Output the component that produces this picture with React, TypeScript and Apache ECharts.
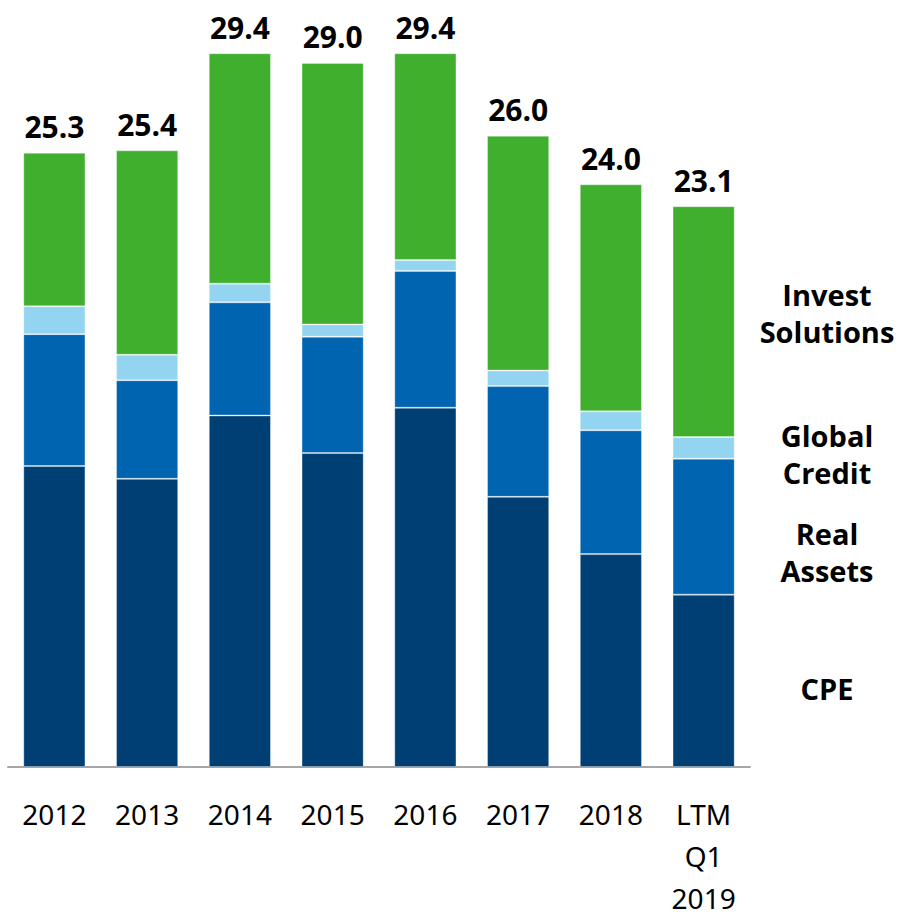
import React, { useEffect, useRef } from "react";
import * as echarts from "echarts";

const categories = ["2012", "2013", "2014", "2015", "2016", "2017", "2018", "LTM\nQ1\n2019"];
const totals = [25.3, 25.4, 29.4, 29.0, 29.4, 26.0, 24.0, 23.1];
const cpe = [12.4, 11.87, 14.48, 12.93, 14.8, 11.13, 8.77, 7.1];
const realAssets = [5.43, 4.06, 4.66, 4.79, 5.63, 4.56, 5.1, 5.6];
const globalCredit = [1.15, 1.05, 0.77, 0.51, 0.45, 0.64, 0.78, 0.89];
const investSolutions = totals.map((t, i) =>
  +(t - cpe[i] - realAssets[i] - globalCredit[i]).toFixed(2)
);
const seriesNames = ["CPE", "Real Assets", "Global Credit", "Invest Solutions"];
const seriesColors = ["#003f74", "#0064b0", "#93d5f0", "#3faf2d"];
const sideLabels = [
  { text: "Invest\nSolutions", y: 313 },
  { text: "Global\nCredit", y: 454 },
  { text: "Real\nAssets", y: 552 },
  { text: "CPE", y: 688 },
];

export default function App() {
  const ref = useRef<HTMLDivElement>(null);
  useEffect(() => {
    if (!ref.current) return;
    const chart = echarts.init(ref.current, null, { renderer: "svg" });
    const seriesData = [cpe, realAssets, globalCredit, investSolutions];
    chart.setOption({
      animation: false,
      grid: { left: 8, right: 150, top: 38.7, bottom: 144.7, containLabel: false },
      xAxis: {
        type: "category",
        data: categories,
        axisLine: { show: true, lineStyle: { color: "#a6a6a6", width: 2 } },
        axisTick: { show: false },
        axisLabel: {
          color: "#000",
          fontSize: 28,
          lineHeight: 42,
          margin: 26,
          fontFamily: "Noto Sans",
          interval: 0,
        },
      },
      yAxis: {
        type: "value",
        min: 0,
        max: 30,
        show: false,
        splitLine: { show: false },
      },
      series: seriesData.map((d, idx) => ({
        name: seriesNames[idx],
        type: "bar",
        stack: "total",
        data: d,
        barCategoryGap: "33%",
        itemStyle: {
          color: seriesColors[idx],
          borderColor: "rgba(255,255,255,0.3)",
          borderWidth: 1,
        },
        label:
          idx === 3
            ? {
                show: true,
                position: "top",
                distance: 11,
                formatter: (p: any) => totals[p.dataIndex].toFixed(1),
                color: "#000",
                fontSize: 30,
                fontWeight: "bold",
                fontFamily: "Open Sans",
              }
            : { show: false },
      })),
      graphic: sideLabels.map((l) => ({
        type: "text",
        x: 827,
        y: l.y,
        style: {
          text: l.text,
          fill: "#000",
          font: "bold 29px 'Open Sans'",
          lineHeight: 37,
          align: "center",
          verticalAlign: "middle",
        },
      })),
    });
    return () => chart.dispose();
  }, []);
  return (
    <div
      ref={ref}
      style={{ position: "absolute", left: 0, top: 0, width: 900, height: 919 }}
    />
  );
}
